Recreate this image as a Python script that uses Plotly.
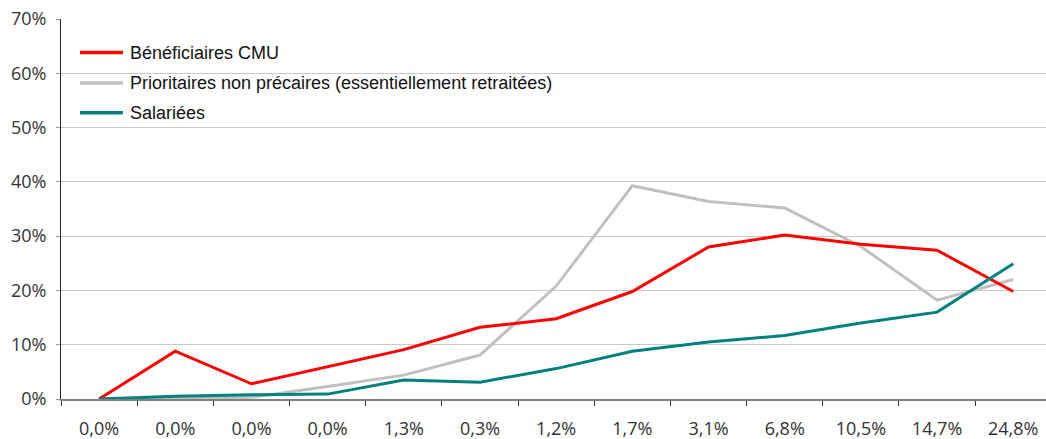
import plotly.graph_objects as go

# Category labels along the x axis (several repeat, so positions are numeric)
categories = ["0,0%", "0,0%", "0,0%", "0,0%", "1,3%", "0,3%", "1,2%",
              "1,7%", "3,1%", "6,8%", "10,5%", "14,7%", "24,8%"]

# Series values, in percent
cmu = [0.0, 8.8, 2.8, 6.0, 9.1, 13.2, 14.8, 19.8, 28.0, 30.2, 28.5, 27.4, 19.8]
prioritaires = [0.0, 0.2, 0.3, 2.3, 4.4, 8.1, 20.8, 39.3, 36.4, 35.2, 28.1, 18.2, 22.0]
salariees = [0.0, 0.5, 0.8, 0.9, 3.5, 3.1, 5.6, 8.8, 10.5, 11.7, 14.0, 16.0, 24.9]

series = [
    ("Bénéficiaires CMU", cmu, "#FF0000"),
    ("Prioritaires non précaires (essentiellement retraitées)", prioritaires, "#C0C0C0"),
    ("Salariées", salariees, "#008080"),
]

x = list(range(len(categories)))

fig = go.Figure()
# draw grey first so red and teal sit on top
for name, vals, color in [series[1], series[0], series[2]]:
    fig.add_trace(go.Scatter(x=x, y=vals, mode="lines", name=name,
                             line=dict(color=color, width=3),
                             showlegend=False))

tick_font = dict(family="Open Sans, sans-serif", size=18, color="#333333")

# hand-drawn legend block with a white background
legend_rows = [0.9118, 0.8316, 0.7534]
shapes = [dict(type="rect", xref="paper", yref="paper", x0=0.0142, x1=0.5127,
               y0=0.682, y1=0.979, fillcolor="white", line=dict(width=0),
               layer="between")]
annotations = []
for (name, _, color), yrow in zip(series, legend_rows):
    shapes.append(dict(type="line", xref="paper", yref="paper",
                       x0=0.0193, x1=0.0629, y0=yrow, y1=yrow,
                       line=dict(color=color, width=3.5)))
    annotations.append(dict(xref="paper", yref="paper", x=0.068, y=yrow,
                            text=name, showarrow=False, xanchor="left",
                            yanchor="middle",
                            font=dict(family="Liberation Sans, Arial, sans-serif",
                                      size=18, color="#111111")))

fig.update_layout(
    width=1046, height=439,
    margin=dict(l=61, r=0, t=19, b=40),
    plot_bgcolor="white", paper_bgcolor="white",
    shapes=shapes, annotations=annotations,
    xaxis=dict(
        range=[-0.5, 12.43], tickmode="array", tickvals=x, ticktext=categories,
        ticks="", showgrid=False, zeroline=False,
        showline=True, linecolor="#808080", linewidth=2,
        tickfont=tick_font, ticklabelstandoff=12,
        minor=dict(tickmode="array", tickvals=[k - 0.5 for k in range(13)],
                   ticks="outside", ticklen=5, tickcolor="#333333", tickwidth=1,
                   showgrid=False),
    ),
    yaxis=dict(
        range=[0, 70], dtick=10, ticksuffix="%", showgrid=True,
        gridcolor="#C8C8C8", gridwidth=1, zeroline=False,
        showline=True, linecolor="#222222", linewidth=1,
        ticks="outside", ticklen=4, tickcolor="#999999",
        tickfont=tick_font, ticklabelstandoff=6,
    ),
)

fig.write_html("out.html")
